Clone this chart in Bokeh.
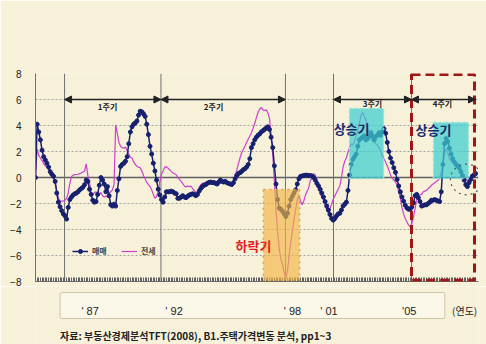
import numpy as np
from bokeh.plotting import figure
from bokeh.layouts import column
from bokeh.models import (Range1d, FixedTicker, Span, BoxAnnotation, Label, Arrow,
                          NormalHead, Legend, LegendItem, PolyAnnotation)
from bokeh.embed import file_html
from bokeh.resources import INLINE

# ---------------- data (monthly, from Jan 1986) ----------------
START_YEAR = 1986
maemae = [  # 매매
    0.0, 4.1, 3.5, 2.9, 2.1, 1.6, 1.35, 1.1, 0.8, 0.45,
    0.25, 0.1, -0.3, -1.2, -1.9, -2.25, -2.55, -2.8, -2.95, -3.2,
    -2.3, -1.7, -1.5, -1.35, -1.25, -1.2, -1.1, -0.95, -0.85, -0.75,
    -0.55, -0.2, -0.3, -0.9, -1.3, -1.75, -1.9, -1.85, -1.3, -0.6,
    0.0, -0.2, -0.5, -1.1, -0.7, -1.4, -2.1, -2.2, -2.05, -2.2,
    -1.0, -0.1, 0.85, 1.0, 1.1, 1.25, 1.6, 2.6, 3.5, 3.9,
    4.1, 4.2, 4.35, 4.8, 5.1, 5.05, 4.9, 4.7, 4.1, 3.3,
    2.4, 1.8, 1.1, 0.5, -0.2, -0.9, -1.35, -1.7, -1.9, -1.5,
    -1.1, -1.1, -1.1, -1.05, -1.1, -1.2, -1.25, -1.6, -1.6, -1.5,
    -1.4, -1.5, -1.55, -1.45, -1.35, -1.3, -1.25, -1.3, -1.4, -1.3,
    -1.05, -0.85, -0.7, -0.6, -0.55, -0.45, -0.38, -0.35, -0.4, -0.38,
    -0.45, -0.5, -0.35, -0.2, -0.3, -0.35, -0.3, -0.4, -0.46, -0.5,
    -0.54, -0.4, -0.1, 0.15, 0.3, 0.37, 0.47, 0.6, 0.68, 0.8,
    1.0, 1.45, 2.3, 2.6, 2.9, 3.1, 3.25, 3.35, 3.5, 3.6,
    3.7, 3.8, 3.9, 3.7, 3.1, 2.3, 0.9, -0.5, -1.7, -2.35,
    -2.45, -2.6, -2.8, -3.0, -2.75, -2.2, -1.7, -1.45, -1.2, -0.95,
    -0.5, -0.1, 0.08, 0.12, 0.15, 0.18, 0.18, 0.15, 0.15, 0.12,
    0.0, -0.2, -0.45, -0.65, -0.9, -1.2, -1.5, -1.85, -2.2, -2.5,
    -2.85, -3.15, -3.28, -3.15, -2.95, -2.8, -2.75, -2.5, -2.2, -2.05,
    -1.9, -1.0, 0.2, 1.0, 1.4, 1.6, 1.8, 2.4, 2.9, 3.0,
    3.1, 3.2, 2.9, 3.0, 3.2, 3.45, 3.2, 2.9, 3.15, 3.25,
    3.45, 3.25, 3.5, 3.75, 3.4, 2.7, 2.0, 1.5, 1.15, 0.75,
    0.4, -0.15, -0.65, -1.1, -1.5, -1.82, -2.13, -2.34, -2.44, -2.44,
    -2.26, -1.95, -1.4, -1.3, -1.55, -1.85, -2.2, -2.15, -2.1, -2.1,
    -2.0, -1.9, -1.75, -1.75, -1.7, -1.75, -1.8, -1.85, -1.1, 1.0,
    2.6, 3.0, 2.75, 2.25, 1.8, 1.45, 1.2, 1.0, 0.9, 0.75,
    0.45, 0.15, -0.2, -0.55, -0.7, -0.4, -0.15, 0.1, 0.2, 0.3,
]
jeonse = [  # 전세
    0.0, 2.2, 1.7, 1.5, 1.3, 1.05, 0.9, 0.8, 0.6, 0.43,
    0.3, -0.08, -0.38, -0.98, -1.6, -1.8, -1.82, -1.82, -1.75, -1.6,
    -1.2, -0.45, 0.08, 0.18, 0.22, 0.23, 0.25, 0.3, 0.35, 0.43,
    0.5, 1.05, 0.15, -0.35, -1.2, -1.35, -1.15, -1.1, -1.4, -1.3,
    -1.15, -1.4, -1.5, -1.45, -1.5, -1.2, -1.1, -0.95, -0.55, 4.05,
    3.4, 2.7, 2.4, 2.3, 2.25, 2.35, 2.05, 1.8, 1.55, 1.5,
    1.2, 1.0, 0.85, 0.8, 0.75, 0.5, 0.15, -0.1, -0.38, -0.54,
    -0.7, -0.95, -1.3, -1.6, -1.45, -1.05, -0.3, 0.25, 0.5, 0.8,
    0.82, 0.72, 0.6, 0.45, 0.35, 0.3, 0.2, 0.0, -0.15, -0.3,
    -0.45, -0.65, -0.72, -0.65, -0.7, -0.65, -0.85, -1.0, -1.15, -1.25,
    -0.85, -0.55, -0.45, -0.4, -0.45, -0.35, -0.28, -0.3, -0.35, -0.38,
    -0.33, -0.3, -0.28, -0.28, -0.3, -0.28, -0.32, -0.34, -0.38, -0.4,
    -0.46, -0.2, 0.18, 0.55, 1.05, 1.5, 1.9, 2.15, 2.4, 2.7,
    2.95, 3.2, 3.45, 3.8, 4.15, 4.6, 5.0, 5.25, 5.4, 5.2,
    5.15, 5.2, 5.0, 4.55, 3.3, 1.8, -0.3, -2.5, -4.2, -5.5,
    -6.3, -6.7, -7.3, -7.7, -7.2, -6.0, -5.0, -4.1, -3.2, -2.5,
    -1.75, -1.4, -1.8, -2.1, -1.8, -1.35, -1.05, -0.8, -0.2, -0.1,
    0.3, 0.2, -0.35, -0.85, -1.23, -1.5, -1.75, -2.1, -2.5, -2.75,
    -2.4, -2.05, -1.65, -1.4, -1.15, -0.9, -0.65, 0.0, 0.8, 1.25,
    1.5, 1.95, 2.3, 2.6, 2.5, 2.8, 3.2, 3.6, 4.2, 4.8,
    5.0, 4.7, 4.4, 3.8, 3.4, 3.05, 2.85, 2.75, 2.6, 2.5,
    2.3, 2.0, 1.7, 1.45, 1.2, 0.9, 0.55, 0.2, -0.05, -0.2,
    -0.35, -0.6, -1.1, -1.6, -2.3, -2.8, -3.15, -3.4, -3.65, -3.8,
    -3.55, -3.05, -2.4, -1.6, -1.4, -1.35, -1.3, -1.1, -1.05, -1.0,
    -0.85, -0.75, -0.6, -0.5, -0.4, -0.3, -0.22, 0.0, 0.4, 1.0,
    1.8, 2.2, 1.9, 1.45, 1.25, 1.15, 1.0, 0.9, 0.75, 0.65,
    0.45, 0.2, 0.0, -0.15, -0.25, -0.1, 0.05, 0.2, 0.3, 0.35,
]
months = [START_YEAR + i / 12 for i in range(len(maemae))]

y_ticks = [-8, -6, -4, -2, 0, 2, 4, 6, 8]
cycle_bounds = [1987.48, 1992.39, 1998.73, 2001.18, 2005.15]
cycle_end = 2008.41
cycle_labels = ["1주기", "2주기", "3주기", "4주기"]
cycle_label_x = [1989.67, 1995.07, 2003.16, 2006.73]
cycle_label_y = [5.46, 5.5, 5.69, 5.69]
year_labels = ["' 87", "' 92", "' 98", "' 01", "'05"]
year_label_x = [1987.27, 1991.96, 1998.58, 2000.62, 2005.10]
source_text = "자료: 부동산경제분석TFT(2008), B1.주택가격변동 분석, pp1~3"

BG = "#f7f1da"
NAVY = "#16206e"
MAGENTA = "#cc40cc"
KR = "Noto Sans CJK KR"

# ---------------- main chart ----------------
p = figure(width=486, height=286, output_backend="svg", toolbar_location=None,
           x_range=Range1d(1986.0, 2008.564), y_range=Range1d(-8, 8),
           min_border_left=35, min_border_right=8, min_border_top=73,
           min_border_bottom=5, background_fill_color=BG, border_fill_color=BG,
           outline_line_color=None)

xa = p.xaxis[0]
xa.ticker = FixedTicker(ticks=[], minor_ticks=months)
xa.major_tick_in = 0
xa.major_tick_out = 0
xa.major_label_standoff = 0
xa.minor_tick_in = 4
xa.minor_tick_out = 0
xa.axis_line_color = "#707070"
xa.minor_tick_line_color = "#606060"

ya = p.yaxis[0]
ya.ticker = FixedTicker(ticks=y_ticks)
ya.major_tick_line_color = None
ya.minor_tick_line_color = None
ya.major_label_standoff = 8
ya.major_label_text_font = "Liberation Sans"
ya.major_label_text_font_size = "10px"
ya.major_label_text_color = "#222222"
ya.axis_line_color = "#707070"

p.xgrid.visible = False
p.ygrid.ticker = FixedTicker(ticks=[-6, -4, -2, 2, 4, 6, 8])
p.ygrid.grid_line_color = "#a0a0a0"
p.ygrid.grid_line_dash = "2 2"

p.add_layout(Span(location=0, dimension="width", line_color="#606060",
                  line_width=1.5, level="underlay"))
for cb in cycle_bounds:
    p.add_layout(Span(location=cb, dimension="height", line_color="#707070",
                      line_width=1, level="underlay"))

mag = p.line(months, jeonse, line_color=MAGENTA, line_width=1.2)
nav_line = p.line(months, maemae, line_color=NAVY, line_width=1.5)
nav_dots = p.scatter(months, maemae, size=4, fill_color=NAVY, line_color=NAVY)

# highlight boxes
p.add_layout(BoxAnnotation(left=1997.61, right=1999.45, top=-0.92, bottom=-7.92,
                           fill_color="#f3b544", fill_alpha=0.65, line_color="#e0a040",
                           line_alpha=1, line_dash="dotted", line_width=1.5))
for l, r, t in [(2001.99, 2003.73, 5.31), (2006.27, 2008.05, 4.23)]:
    p.add_layout(BoxAnnotation(left=l, right=r, top=t, bottom=-0.08,
                               fill_color="#3ccfcf", fill_alpha=0.72, line_color="#8fe3e3",
                               line_alpha=1, line_dash="dotted", line_width=1.5))
p.add_layout(BoxAnnotation(left=2005.15, right=2008.36, top=7.92, bottom=-7.9,
                           fill_alpha=0, line_color="#a01515", line_alpha=1,
                           line_width=3, line_dash="9 5"))

# cycle arrows and labels
pairs = [(cycle_bounds[0], cycle_bounds[1]), (cycle_bounds[1], cycle_bounds[2]),
         (cycle_bounds[3], cycle_bounds[4]), (cycle_bounds[4], cycle_end)]
for (a, b) in pairs:
    p.add_layout(Arrow(start=NormalHead(size=7, fill_color="#222222", line_color="#222222"),
                       end=NormalHead(size=7, fill_color="#222222", line_color="#222222"),
                       x_start=a, x_end=b, y_start=6, y_end=6,
                       line_color="#222222", line_width=1.6))
for txt, lx, ly in zip(cycle_labels, cycle_label_x, cycle_label_y):
    p.add_layout(Label(x=lx, y=ly, text=txt, text_font=KR, text_font_size="8px",
                       text_align="center", text_baseline="middle", text_color="#222222",
                       text_font_style="bold"))

for lx, ly in [(2002.1, 3.77), (2006.27, 3.69)]:
    p.add_layout(Label(x=lx, y=ly, text="상승기", text_font=KR, text_font_size="13px",
                       text_font_style="bold", text_align="center",
                       text_baseline="middle", text_color="#1b2a6b"))
p.add_layout(Label(x=1997.1, y=-5.23, text="하락기", text_font=KR, text_font_size="13px",
                   text_font_style="bold", text_align="center", text_baseline="middle",
                   text_color="#e41c24"))

# dotted circle
t = np.linspace(0, 2 * np.pi, 60)
p.add_layout(PolyAnnotation(xs=list(2007.95 + 0.815 * np.cos(t)),
                            ys=list(-0.15 + 1.18 * np.sin(t)),
                            fill_alpha=0, line_color="#555555", line_alpha=1,
                            line_dash="dotted", line_width=1.2))

legend = Legend(items=[LegendItem(label="매매", renderers=[nav_line, nav_dots]),
                       LegendItem(label="전세", renderers=[mag])],
                location=(37, 25), orientation="horizontal",
                background_fill_alpha=0, border_line_color=None,
                label_text_font=KR, label_text_font_size="8px",
                label_text_font_style="bold", glyph_width=16, glyph_height=10,
                label_standoff=4, spacing=9, padding=0, margin=0,
                label_height=10)
p.add_layout(legend)

# ---------------- strip below: years and source ----------------
s = figure(width=486, height=58, output_backend="svg", toolbar_location=None,
           x_range=Range1d(1984.2173, 2008.9713), y_range=Range1d(0, 58),
           min_border_left=0, min_border_right=0, min_border_top=0, min_border_bottom=0,
           background_fill_color=BG, border_fill_color=BG, outline_line_color=None,
           x_axis_location=None, y_axis_location=None)
s.grid.visible = False
s.add_layout(BoxAnnotation(left=1985.59, right=2007.09, top=52, bottom=26,
                           fill_color="#fbf7e9", fill_alpha=1, line_color="#cdc4aa",
                           line_alpha=1, line_width=1, border_radius=2))
for txt, lx in zip(year_labels, year_label_x):
    s.add_layout(Label(x=lx, y=34, text=txt, text_font="Liberation Sans",
                       text_font_size="11px", text_align="center",
                       text_baseline="middle", text_color="#222222"))
s.add_layout(Label(x=2007.494, y=34, text="(연도)", text_font=KR,
                   text_font_size="10px", text_align="left", text_baseline="middle",
                   text_color="#222222"))
s.add_layout(Label(x=1985.59, y=9, text=source_text, text_font=KR,
                   text_font_size="10px", text_font_style="bold",
                   text_align="left", text_baseline="middle", text_color="#222222"))

layout = column(p, s, spacing=0)
open("out.html", "w").write(file_html(layout, INLINE))
